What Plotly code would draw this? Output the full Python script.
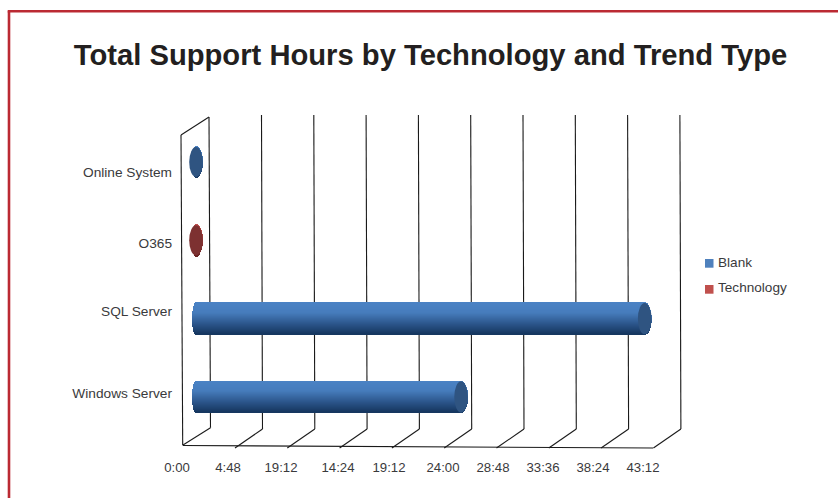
import math
import plotly.graph_objects as go

# ---- data ----
categories = ["Windows Server", "SQL Server", "O365", "Online System"]
blank_hours = [24.35, 41.22, None, 0.0]
technology_hours = [None, None, 0.0, None]
tick_labels = ["0:00", "4:48", "19:12", "14:24", "19:12", "24:00", "28:48", "33:36", "38:24", "43:12"]
title_text = "Total Support Hours by Technology and Trend Type"

W, H = 838, 498
PX_PER_HOUR = 52.25 / 4.8
ORIGIN_PX = 196.0
ROW_PX = 78.33
ROW0_PX = 397.0
BAR_H = 31.4
RX_END = 7.0 / PX_PER_HOUR
RX_START = 4.0 / PX_PER_HOUR
BANDS = 31
FONT = "Liberation Sans"
TEXT = "#3a3a3c"


def mix(stops, t):
    for (a, ca), (b, cb) in zip(stops, stops[1:]):
        if t <= b:
            f = (t - a) / (b - a)
            return "rgb(%d,%d,%d)" % tuple(round(p + (q - p) * f) for p, q in zip(ca, cb))
    return "rgb(%d,%d,%d)" % stops[-1][1]


BLUE = [(0, (74, 130, 196)), (0.3, (70, 124, 188)), (0.65, (44, 86, 140)), (1, (20, 52, 92))]
RED = [(0, (190, 80, 78)), (0.3, (180, 72, 70)), (0.65, (140, 50, 50)), (1, (100, 32, 32))]

fig = go.Figure()


def add_series(values, stops):
    for k in range(BANDS):
        top = k / BANDS
        t = (k + 0.5) / BANDS * 2 - 1  # -1 top .. 1 bottom
        s = math.sqrt(max(0, 1 - t * t))
        base = [None if v is None else -RX_START * s for v in values]
        length = [None if v is None else v + RX_END * s + RX_START * s for v in values]
        fig.add_trace(go.Bar(
            y=categories, x=length, base=base, orientation="h",
            width=BAR_H / ROW_PX / BANDS,
            offset=(BAR_H / 2 - (top + 1 / BANDS) * BAR_H) / ROW_PX,
            marker=dict(color=mix(stops, top), line=dict(width=0)),
            showlegend=False, hoverinfo="skip",
        ))


add_series(blank_hours, BLUE)
add_series(technology_hours, RED)

# real legend entries (swatches are drawn nearer the text as shapes below)
for name in ("Blank", "Technology"):
    fig.add_trace(go.Scatter(x=[None], y=[None], mode="markers", name=name, legendgroup=name,
                             marker=dict(symbol="square", size=10, color="rgba(0,0,0,0)")))

# carrier for the label axes
fig.add_trace(go.Scatter(x=[None], y=[None], xaxis="x2", yaxis="y2", showlegend=False, hoverinfo="skip"))

# ---- shapes ----
shapes = []


def px_line(x0, y0, x1, y1, color="#1a1a1a", width=1.1):
    shapes.append(dict(type="line", xref="paper", yref="paper", layer="below",
                       x0=x0 / W, x1=x1 / W, y0=1 - y0 / H, y1=1 - y1 / H,
                       line=dict(color=color, width=width)))


STEP = 52.3
for i, _ in enumerate(tick_labels):
    bx = 261.5 + STEP * (i - 1)
    if i == 0:
        px_line(209, 117, 210.5, 427.7)
        px_line(210.5, 427.7, 183, 445)
    else:
        px_line(bx, 115, bx + 1, 429)
        px_line(bx + 1, 429, bx + 1 - 27.5, 448)
px_line(181, 135, 209, 117)
px_line(181, 135, 182.7, 445)
px_line(182.7, 445.5, 653, 448)

# end caps, placed from the data
for values, cap in ((blank_hours, "#2f5481"), (technology_hours, "#7d3131")):
    for i, v in enumerate(values):
        if v is None:
            continue
        ry = BAR_H / 2 / ROW_PX
        if v == 0:
            ry = 15 / ROW_PX
        shapes.append(dict(type="circle", xref="x", yref="y", layer="above",
                           x0=v - 6.8 / PX_PER_HOUR, x1=v + 6.8 / PX_PER_HOUR,
                           y0=i - ry, y1=i + ry,
                           fillcolor=cap, line=dict(width=0)))

# legend swatches
for (y0, y1), col in (((259, 267.7), "#4f81bd"), ((285, 293.7), "#c0504d")):
    shapes.append(dict(type="rect", xref="paper", yref="paper", layer="above",
                       x0=705 / W, x1=713.5 / W, y0=1 - y1 / H, y1=1 - y0 / H,
                       fillcolor=col, line=dict(width=0)))

# red frame
RED_FRAME = "#bb2a33"
for a in ((9, H, 9, 11.3), (7.7, 11.3, W, 11.3)):
    shapes.append(dict(type="line", xref="paper", yref="paper", layer="above",
                       x0=a[0] / W, x1=a[2] / W, y0=1 - a[1] / H, y1=1 - a[3] / H,
                       line=dict(color=RED_FRAME, width=2.6)))

# category label nudges in pixels, upward positive
label_nudge_px = [4, 7.5, -3, -10.5]
# the reference's hour labels are not evenly spaced
tick_label_px = [177, 228, 281, 338, 389, 443, 493, 543, 593, 643]

fig.update_layout(
    width=W, height=H, autosize=False,
    margin=dict(l=0, r=0, t=0, b=0, pad=0),
    paper_bgcolor="white", plot_bgcolor="rgba(0,0,0,0)",
    barmode="overlay", bargap=0,
    font=dict(family=FONT, size=13, color=TEXT),
    title=dict(text=title_text, x=430.5 / W, xanchor="center", xref="paper",
               y=1 - 55 / H, yanchor="middle", yref="paper",
               font=dict(family=FONT, size=29.2, color="#231f20", weight="bold")),
    xaxis=dict(range=[-ORIGIN_PX / PX_PER_HOUR, (W - ORIGIN_PX) / PX_PER_HOUR],
               domain=[0, 1], showgrid=False, zeroline=False, showticklabels=False, ticks="", showline=False),
    yaxis=dict(type="category", categoryorder="array", categoryarray=categories,
               range=[(ROW0_PX - H) / ROW_PX, ROW0_PX / ROW_PX],
               domain=[0, 1], showgrid=False, zeroline=False, showticklabels=False, ticks="", showline=False),
    xaxis2=dict(overlaying="x", anchor="free", position=1 - 458 / H, side="bottom",
                range=[0, W],
                tickmode="array", tickvals=tick_label_px, ticktext=tick_labels,
                showgrid=False, zeroline=False, showline=False, ticks="",
                tickfont=dict(family=FONT, size=13.2, color=TEXT)),
    yaxis2=dict(overlaying="y", anchor="free", position=172 / W, side="left",
                range=[(ROW0_PX - H) / ROW_PX, ROW0_PX / ROW_PX],
                tickmode="array",
                tickvals=[i + label_nudge_px[i] / ROW_PX for i in range(len(categories))],
                ticktext=categories,
                showgrid=False, zeroline=False, showline=False, ticks="",
                tickfont=dict(family=FONT, size=13.7, color=TEXT)),
    legend=dict(x=678 / W, xanchor="left", y=1 - 246 / H, yanchor="top",
                bgcolor="rgba(0,0,0,0)", tracegroupgap=5, itemclick=False, itemdoubleclick=False,
                font=dict(family=FONT, size=13.6, color=TEXT)),
    shapes=shapes,
)

fig.write_html("out.html", config=dict(displayModeBar=False),
               post_script="document.body.style.margin='0';")
